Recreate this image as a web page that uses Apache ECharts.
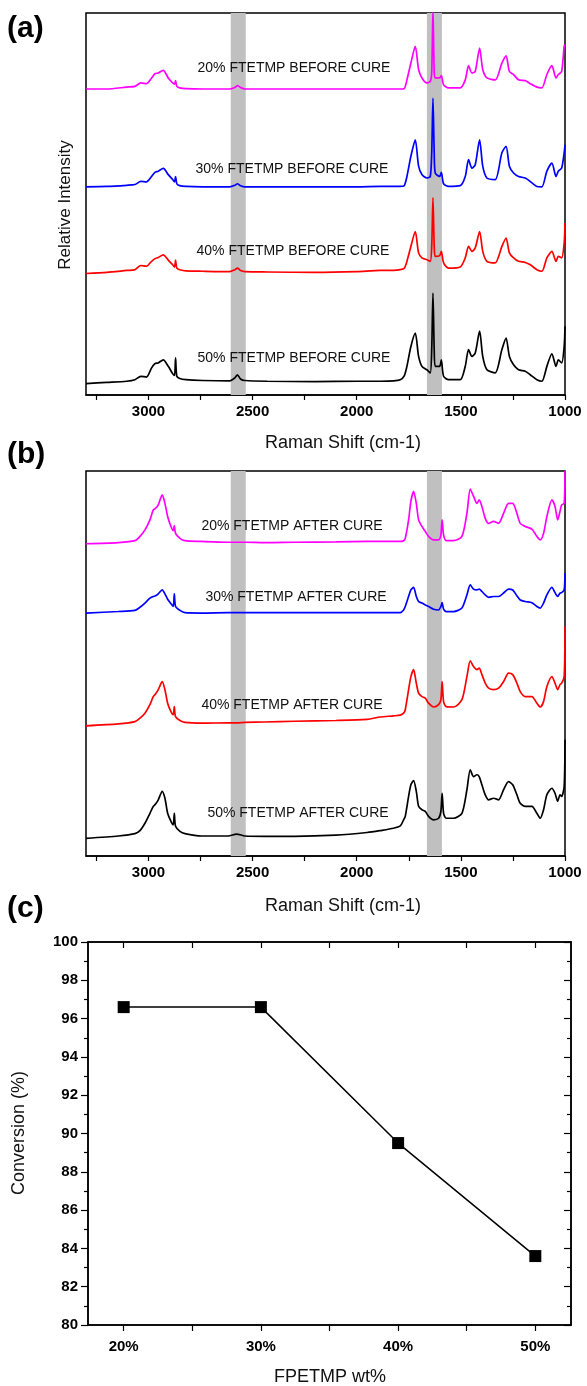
<!DOCTYPE html>
<html>
<head>
<meta charset="utf-8">
<title>Raman spectra before / after cure and conversion</title>
<script src="https://cdn.jsdelivr.net/npm/echarts@6.0.0/dist/echarts.min.js"></script>
<style>
  html, body { margin: 0; padding: 0; background: #fff; }
  #chart { width: 587px; height: 1386px; }
</style>
</head>
<body>
<div id="chart"></div>
<script>
// values are the stacked (offset) relative intensities as plotted, 0-100 per panel
const shiftBefore = [
  3300, 3200, 3105, 3065, 3037, 3010, 2985, 2969, 2953, 2929,
  2905, 2884, 2875, 2870, 2864, 2850, 2820, 2740, 2610, 2585,
  2573, 2558, 2537, 2430, 2200, 2000,
  1887, 1823, 1791, 1772, 1759, 1740, 1719, 1703, 1687, 1663,
  1647, 1640, 1634, 1628, 1623, 1602, 1594, 1583, 1559, 1503,
  1479, 1463, 1447, 1431, 1410, 1395, 1375, 1335, 1303, 1283,
  1267, 1247, 1223, 1191, 1167, 1135, 1111, 1087, 1063, 1043,
  1032, 1016, 1004, 1000
];
const before20 = [
  80.1, 80.1, 80.6, 80.8, 81.7, 81.5, 83.0, 84.1, 84.3, 85.0,
  83.0, 81.7, 81.4, 82.3, 80.8, 80.4, 80.2, 80.1, 80.1, 80.5,
  81.0, 80.5, 80.1, 80.1, 80.1, 80.1,
  80.1, 80.1, 80.1, 80.2, 82.5, 86.9, 91.3, 85.2, 83.0, 81.7,
  82.1, 84.5, 101, 84.5, 83.0, 83.0, 83.6, 81.2, 80.4, 80.4,
  82.5, 86.2, 84.3, 84.7, 90.8, 85.2, 83.0, 82.5, 86.9, 88.8,
  84.7, 83.9, 82.5, 82.3, 81.5, 80.6, 80.4, 83.9, 86.2, 83.0,
  83.9, 84.7, 91.3, 91.7
];
const before30 = [
  54.5, 54.6, 54.9, 55.1, 55.9, 55.8, 57.2, 58.3, 58.6, 59.3,
  57.7, 56.4, 55.8, 57.2, 55.3, 54.8, 54.6, 54.5, 54.5, 54.9,
  55.3, 54.8, 54.5, 54.5, 54.5, 54.5,
  54.6, 54.6, 54.6, 54.8, 57.2, 62.5, 66.8, 59.9, 57.7, 56.8,
  57.2, 63.4, 77.7, 63.4, 58.1, 57.2, 58.3, 55.3, 54.6, 54.8,
  57.2, 61.6, 59.4, 60.3, 66.8, 59.9, 56.8, 56.4, 63.4, 65.1,
  59.9, 58.1, 57.2, 56.8, 55.9, 54.6, 54.5, 58.6, 60.7, 57.2,
  58.6, 59.4, 63.4, 65.5
];
const before40 = [
  31.8, 32.1, 32.6, 32.8, 33.9, 33.7, 35.0, 35.7, 36.0, 36.7,
  35.3, 34.1, 33.5, 35.3, 33.2, 32.8, 32.5, 32.4, 32.3, 32.8,
  33.2, 32.6, 32.3, 32.2, 32.1, 32.3,
  32.6, 32.6, 32.8, 33.2, 35.0, 38.9, 42.8, 37.2, 35.9, 35.4,
  35.0, 38.9, 51.6, 38.9, 36.3, 36.5, 37.6, 34.6, 33.2, 33.5,
  35.9, 38.9, 37.6, 38.5, 42.8, 37.6, 35.0, 34.6, 38.9, 41.1,
  37.2, 35.9, 35.0, 34.7, 34.1, 32.8, 32.4, 35.9, 37.6, 35.0,
  36.3, 35.9, 39.8, 45.0
];
const before50 = [
  3.0, 3.3, 3.6, 4.0, 4.9, 4.7, 7.1, 8.2, 8.4, 9.2,
  7.5, 5.6, 5.1, 9.7, 4.9, 4.3, 4.0, 3.8, 3.7, 4.5,
  5.3, 4.2, 3.8, 3.6, 3.5, 3.6,
  3.6, 3.7, 4.0, 5.0, 7.5, 12.7, 16.2, 10.1, 7.5, 6.6,
  5.8, 11.9, 26.7, 11.9, 7.5, 7.5, 9.2, 4.9, 4.0, 4.0,
  7.5, 11.9, 10.1, 11.0, 16.7, 10.1, 6.6, 5.8, 11.9, 14.9,
  10.1, 7.9, 6.6, 6.2, 5.3, 4.0, 3.6, 7.5, 10.8, 7.5,
  9.2, 8.4, 12.7, 18.0
];

const shiftAfter = [
  3300, 3145, 3065, 3041, 3017, 2993, 2977, 2966, 2953, 2934,
  2921, 2908, 2892, 2881, 2876, 2870, 2849, 2825, 2745, 2617,
  2577, 2537, 2442, 2300, 2100, 1950,
  1887, 1823, 1791, 1775, 1767, 1751, 1740, 1727, 1714, 1703,
  1687, 1671, 1655, 1631, 1607, 1596, 1590, 1583, 1570, 1535,
  1495, 1471, 1455, 1439, 1423, 1412, 1399, 1383, 1367, 1343,
  1319, 1295, 1271, 1251, 1231, 1215, 1191, 1159, 1135, 1119,
  1103, 1087, 1063, 1048, 1035, 1024, 1016, 1004, 1000
];
const after20 = [
  81.1, 81.4, 81.9, 83.0, 84.7, 87.3, 89.9, 90.3, 91.2, 93.8,
  91.6, 88.2, 85.6, 84.5, 85.8, 83.8, 82.5, 81.9, 81.7, 81.5,
  81.5, 81.5, 81.4, 81.5, 81.6, 81.7,
  81.7, 81.7, 81.7, 81.9, 82.5, 87.3, 92.1, 94.7, 91.6, 87.3,
  85.6, 84.3, 83.0, 82.1, 82.1, 83.4, 87.3, 83.4, 81.9, 81.9,
  83.0, 89.0, 95.3, 93.4, 91.6, 92.5, 90.8, 87.7, 86.4, 86.9,
  86.4, 89.0, 91.6, 91.6, 89.0, 86.4, 85.6, 84.9, 83.0, 82.1,
  83.8, 88.2, 92.5, 90.8, 87.3, 89.5, 91.2, 91.6, 100.0
];
const after30 = [
  63.1, 63.5, 63.8, 64.6, 65.7, 67.0, 67.4, 67.6, 68.1, 69.1,
  68.1, 66.7, 65.5, 64.8, 68.1, 64.8, 63.8, 63.2, 63.1, 63.2,
  63.2, 63.2, 63.2, 63.2, 63.2, 63.2,
  63.2, 63.2, 63.2, 63.9, 64.8, 67.4, 69.1, 69.8, 67.4, 66.1,
  65.7, 65.2, 64.8, 64.1, 63.9, 64.8, 65.8, 64.1, 63.5, 63.5,
  64.4, 67.8, 70.4, 69.3, 69.1, 69.3, 68.7, 67.8, 67.2, 67.4,
  67.4, 68.3, 69.3, 69.1, 67.6, 66.5, 66.1, 65.8, 64.8, 64.4,
  65.7, 67.8, 69.8, 68.4, 67.4, 68.3, 68.4, 69.1, 73.5
];
const after40 = [
  33.8, 34.3, 34.9, 35.8, 37.1, 39.3, 41.4, 42.1, 43.2, 45.3,
  43.2, 39.7, 37.5, 36.7, 38.8, 36.2, 35.2, 34.7, 34.5, 34.6,
  34.6, 34.7, 34.8, 35.0, 35.2, 35.5,
  36.1, 36.4, 36.6, 37.1, 38.0, 43.2, 46.6, 48.4, 44.9, 42.3,
  41.4, 41.0, 39.7, 38.7, 39.3, 40.6, 45.3, 40.1, 38.8, 38.7,
  40.6, 46.6, 50.7, 49.2, 48.4, 48.8, 47.1, 44.9, 43.6, 43.2,
  43.6, 45.3, 47.5, 47.1, 44.9, 42.7, 41.4, 41.4, 39.7, 38.7,
  40.1, 44.0, 46.6, 44.9, 43.2, 44.5, 44.9, 46.6, 59.6
];
const after50 = [
  4.6, 5.2, 5.8, 6.6, 8.5, 11.1, 12.9, 13.5, 14.6, 16.8,
  15.0, 11.1, 9.0, 8.1, 11.1, 7.7, 6.4, 5.8, 5.2, 5.2,
  5.7, 5.2, 5.1, 5.1, 5.4, 6.1,
  6.6, 7.2, 7.8, 9.4, 10.3, 15.5, 18.5, 19.6, 16.8, 12.9,
  12.0, 11.6, 10.3, 9.4, 9.8, 11.6, 16.3, 11.1, 9.8, 9.8,
  11.1, 17.2, 22.4, 20.6, 21.1, 20.6, 18.5, 15.9, 14.6, 15.0,
  14.6, 17.2, 19.3, 18.5, 15.9, 13.7, 12.9, 12.9, 11.1, 9.8,
  12.0, 15.9, 17.6, 16.3, 14.2, 15.9, 15.5, 18.0, 30.2
];

// shaded regions (cm-1): S-H ~2570 and C=C ~1640
const bands = [[2533, 2605], [1591, 1663]];
const shiftLabels = [1000, 1500, 2000, 2500, 3000];
const shiftTicks = [1000, 1250, 1500, 1750, 2000, 2250, 2500, 2750, 3000, 3250];

const wtPercent = [20, 30, 40, 50];
const conversion = [96.6, 96.6, 89.5, 83.6];

const colors = ['#ff00ff', '#0000ff', '#ff0000', '#000000'];
const FONT = '"Liberation Sans", Arial, sans-serif';

const myChart = echarts.init(document.getElementById('chart'), null, { renderer: 'canvas' });

function spectrum(name, xs, ys, color, idx) {
  return {
    name,
    type: 'line',
    xAxisIndex: idx,
    yAxisIndex: idx,
    data: xs.map((x, i) => [x, ys[i]]),
    showSymbol: false,
    symbol: 'none',
    smooth: 0.25,
    lineStyle: { color, width: 1.7 },
    itemStyle: { color },
    z: 3
  };
}

function bandSeries(idx) {
  return {
    type: 'line',
    xAxisIndex: idx,
    yAxisIndex: idx,
    data: [],
    z: 1,
    markArea: {
      silent: true,
      itemStyle: { color: '#c0c0c0' },
      data: bands.map(b => [{ xAxis: b[0] }, { xAxis: b[1] }])
    }
  };
}

function shiftAxis(idx) {
  return {
    type: 'value',
    gridIndex: idx,
    min: 1000,
    max: 3300,
    inverse: true,
    splitLine: { show: false },
    axisLine: { show: true, lineStyle: { color: '#000', width: 1.5 } },
    axisTick: { show: true, length: 5, customValues: shiftTicks, lineStyle: { color: '#000', width: 1.2 } },
    axisLabel: {
      customValues: shiftLabels,
      formatter: v => String(v),
      margin: 9,
      color: '#000',
      fontFamily: FONT,
      fontWeight: 'bold',
      fontSize: 15
    }
  };
}

function hiddenY(idx) {
  return { type: 'value', gridIndex: idx, min: 0, max: 100, show: false };
}

const frame = { show: true, borderColor: '#000', borderWidth: 1.5, backgroundColor: 'transparent' };

function text(t, x, y, size, opts) {
  const o = opts || {};
  return {
    type: 'text',
    x,
    y,
    z: 100,
    rotation: o.rotation || 0,
    style: {
      text: t,
      font: `${o.bold ? 'bold ' : ''}${size}px ${FONT}`,
      fill: o.fill || '#111',
      align: o.align || 'center',
      verticalAlign: 'middle'
    }
  };
}

const labelsA = ['20% FTETMP BEFORE CURE', '30% FTETMP BEFORE CURE', '40% FTETMP BEFORE CURE', '50% FTETMP BEFORE CURE'];
const labelsB = ['20% FTETMP AFTER CURE', '30% FTETMP AFTER CURE', '40% FTETMP AFTER CURE', '50% FTETMP AFTER CURE'];
const posA = [[294, 68], [292, 169], [293, 251], [294, 358]];
const posB = [[292, 526], [296, 597], [292, 705], [298, 813]];

const option = {
  animation: false,
  backgroundColor: '#fff',
  grid: [
    Object.assign({ left: 86, top: 13, width: 479, height: 382 }, frame),
    Object.assign({ left: 86, top: 471, width: 479, height: 385 }, frame),
    Object.assign({ left: 88, top: 942, width: 483, height: 383 }, frame)
  ],
  xAxis: [
    shiftAxis(0),
    shiftAxis(1),
    {
      type: 'value',
      gridIndex: 2,
      min: 17.4,
      max: 52.6,
      splitLine: { show: false },
      axisLine: { show: true, lineStyle: { color: '#000', width: 1.5 } },
      axisTick: { show: true, length: 6, customValues: [20, 25, 30, 35, 40, 45, 50], lineStyle: { color: '#000', width: 1.2 } },
      axisLabel: {
        customValues: wtPercent,
        formatter: v => v + '%',
        margin: 14,
        color: '#000',
        fontFamily: FONT,
        fontWeight: 'bold',
        fontSize: 15
      }
    },
    {
      type: 'value',
      gridIndex: 2,
      position: 'top',
      min: 17.4,
      max: 52.6,
      splitLine: { show: false },
      axisLine: { show: true, lineStyle: { color: '#000', width: 1.5 } },
      axisTick: { show: true, inside: true, length: 6, customValues: [20, 25, 30, 35, 40, 45, 50], lineStyle: { color: '#000', width: 1.2 } },
      axisLabel: { show: false }
    }
  ],
  yAxis: [
    hiddenY(0),
    hiddenY(1),
    {
      type: 'value',
      gridIndex: 2,
      min: 80,
      max: 100,
      interval: 2,
      splitLine: { show: false },
      axisLine: { show: true, lineStyle: { color: '#000', width: 1.5 } },
      axisTick: { show: true, length: 7, lineStyle: { color: '#000', width: 1.2 } },
      minorTick: { show: true, splitNumber: 2, length: 4, lineStyle: { color: '#000', width: 1.2 } },
      axisLabel: { margin: 10, color: '#000', fontFamily: FONT, fontWeight: 'bold', fontSize: 15 }
    },
    {
      type: 'value',
      gridIndex: 2,
      position: 'right',
      min: 80,
      max: 100,
      interval: 2,
      splitLine: { show: false },
      axisLine: { show: true, lineStyle: { color: '#000', width: 1.5 } },
      axisTick: { show: true, inside: true, length: 7, lineStyle: { color: '#000', width: 1.2 } },
      minorTick: { show: true, splitNumber: 2, length: 4, lineStyle: { color: '#000', width: 1.2 } },
      axisLabel: { show: false }
    }
  ],
  series: [
    bandSeries(0),
    bandSeries(1),
    spectrum('20% before', shiftBefore, before20, colors[0], 0),
    spectrum('30% before', shiftBefore, before30, colors[1], 0),
    spectrum('40% before', shiftBefore, before40, colors[2], 0),
    spectrum('50% before', shiftBefore, before50, colors[3], 0),
    spectrum('20% after', shiftAfter, after20, colors[0], 1),
    spectrum('30% after', shiftAfter, after30, colors[1], 1),
    spectrum('40% after', shiftAfter, after40, colors[2], 1),
    spectrum('50% after', shiftAfter, after50, colors[3], 1),
    {
      name: 'Conversion',
      type: 'line',
      xAxisIndex: 2,
      yAxisIndex: 2,
      data: wtPercent.map((w, i) => [w, conversion[i]]),
      symbol: 'rect',
      symbolSize: 12,
      lineStyle: { color: '#000', width: 1.5 },
      itemStyle: { color: '#000' },
      z: 3
    }
  ],
  graphic: [
    text('(a)', 7, 29, 30, { bold: true, align: 'left', fill: '#000' }),
    text('(b)', 7, 455, 30, { bold: true, align: 'left', fill: '#000' }),
    text('(c)', 7, 909, 30, { bold: true, align: 'left', fill: '#000' }),
    ...labelsA.map((t, i) => text(t, posA[i][0], posA[i][1], 14)),
    ...labelsB.map((t, i) => text(t, posB[i][0], posB[i][1], 14)),
    text('Raman Shift (cm-1)', 343, 443, 18),
    text('Raman Shift (cm-1)', 343, 906, 18),
    text('Relative Intensity', 65, 205, 17, { rotation: Math.PI / 2 }),
    text('Conversion (%)', 19, 1133, 18, { rotation: Math.PI / 2 }),
    text('FPETMP wt%', 330, 1377, 18)
  ]
};

myChart.setOption(option);
</script>
</body>
</html>
